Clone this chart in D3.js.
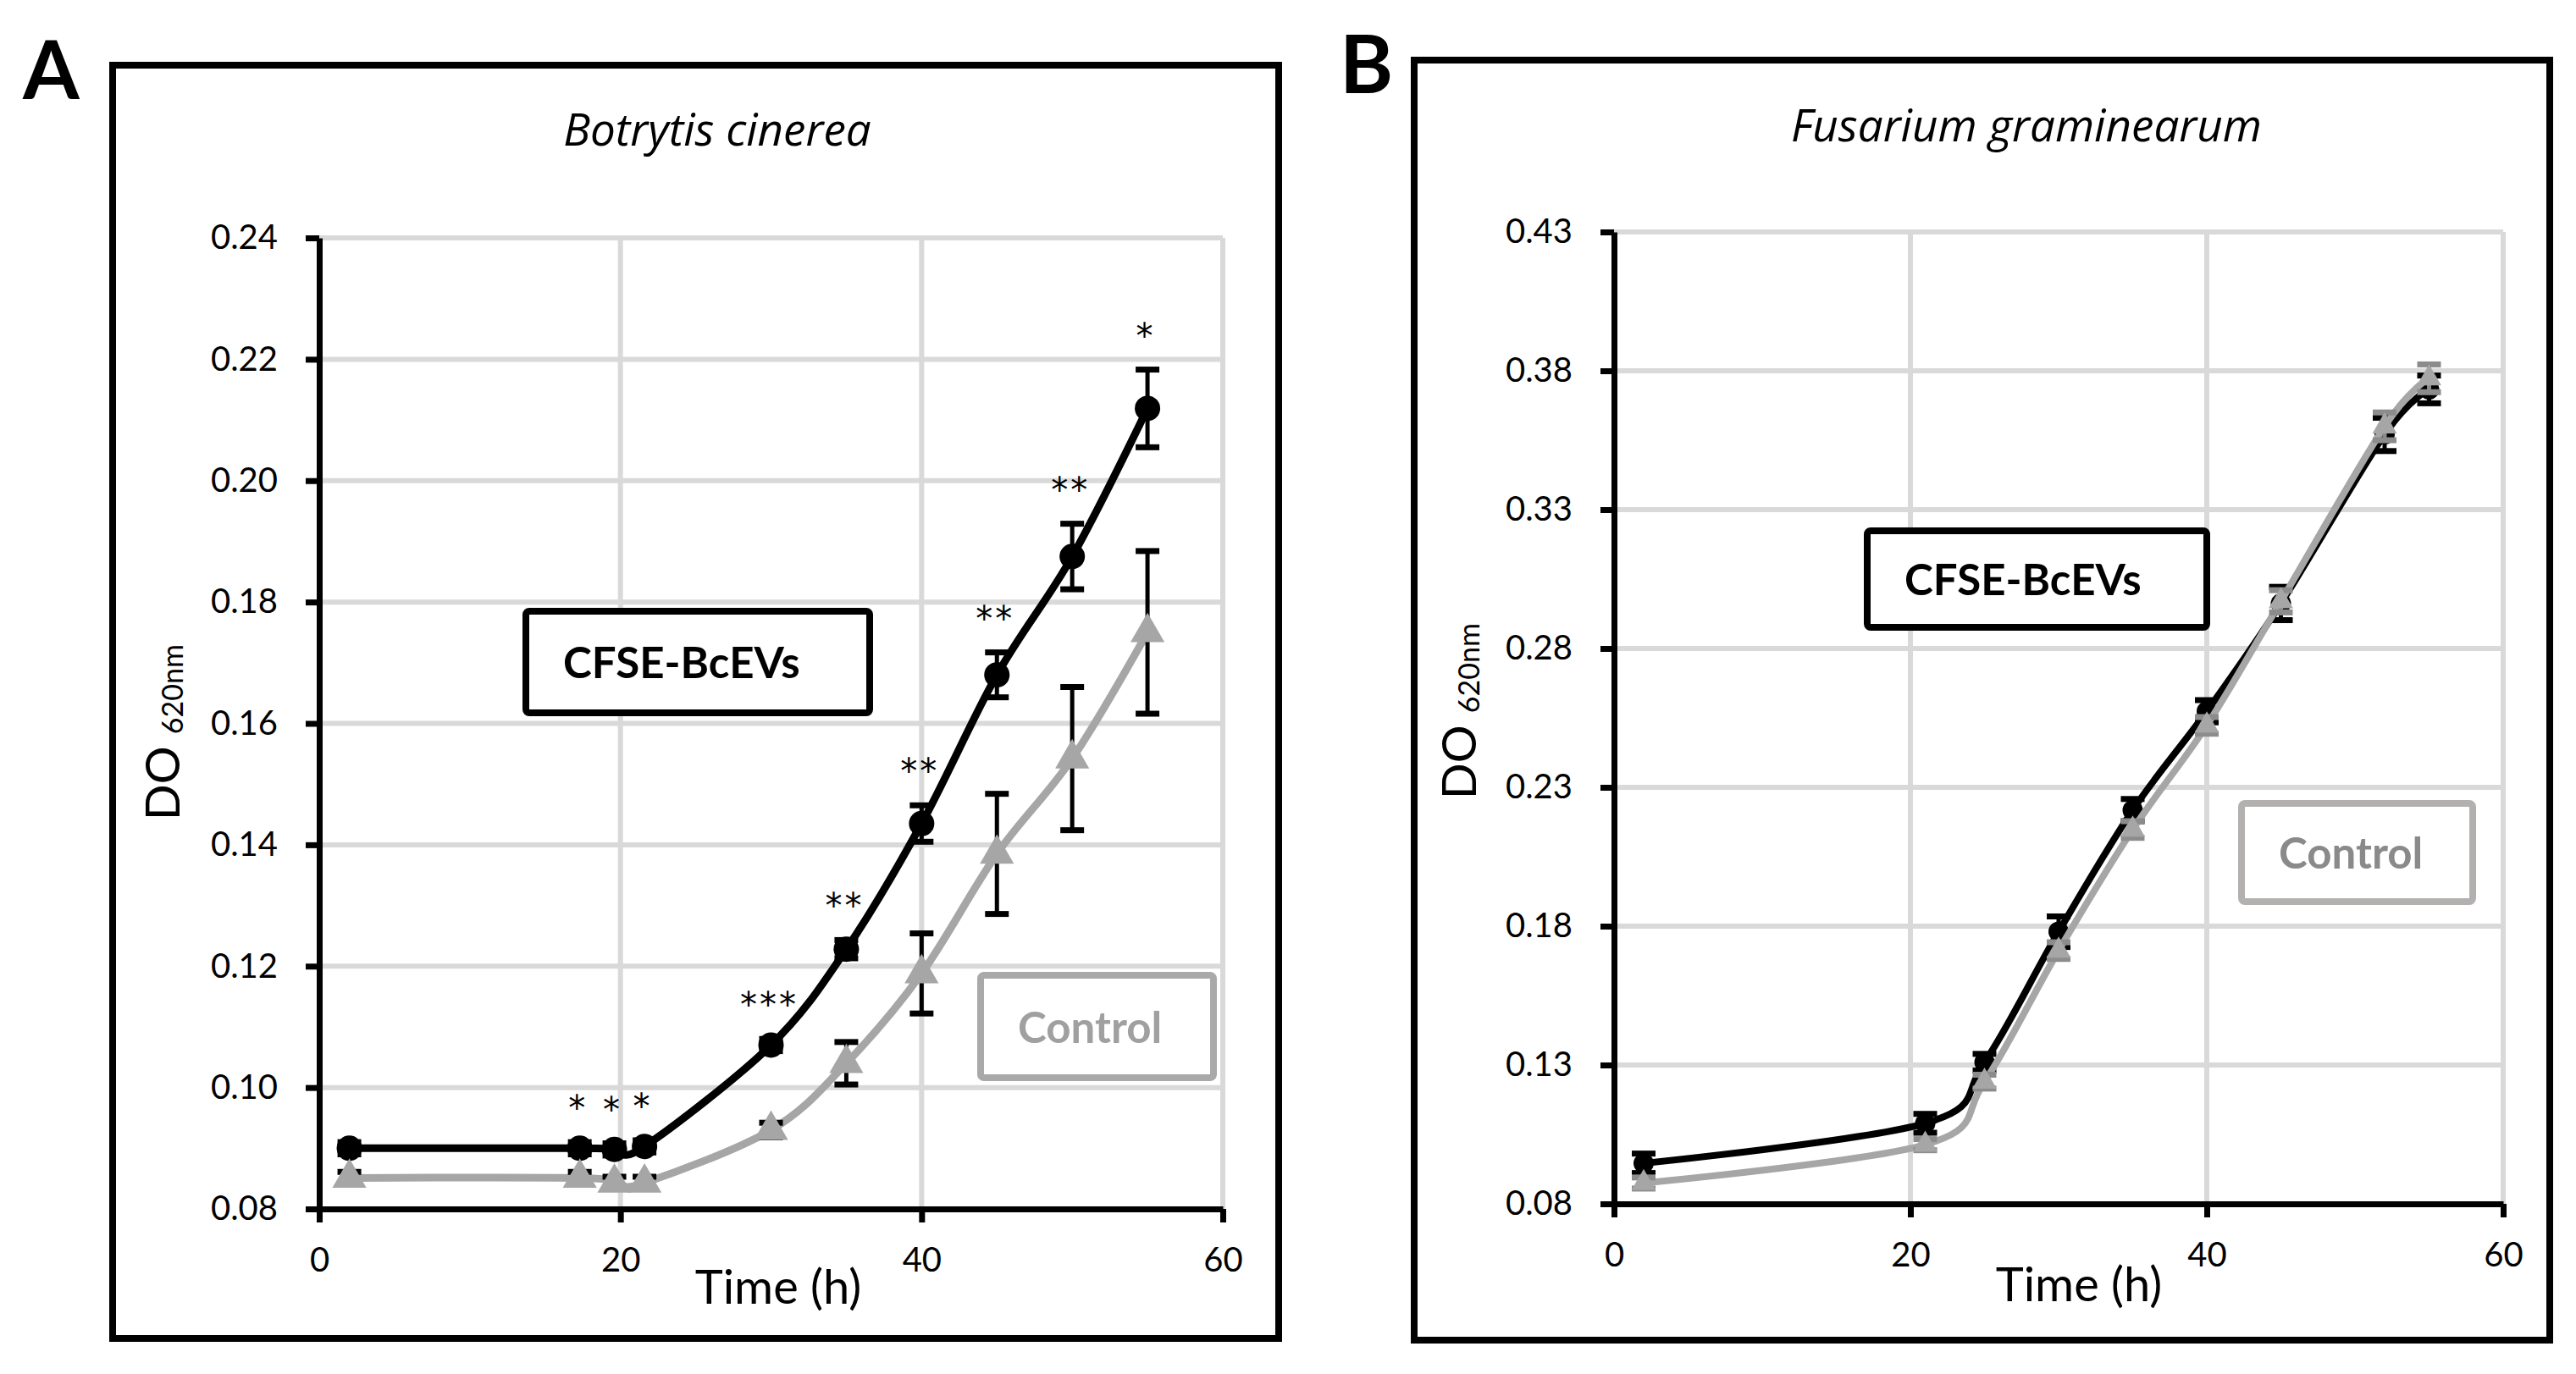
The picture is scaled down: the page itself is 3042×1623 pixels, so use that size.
<!DOCTYPE html>
<html><head><meta charset="utf-8">
<script src="https://cdn.jsdelivr.net/npm/d3@7"></script>
<style>
html,body{margin:0;padding:0;background:#fff;}
svg{display:block;}
</style></head><body>
<svg id="chart" width="3042" height="1623"></svg>
<script>
// ---------- DATA ----------
// Panel A: Botrytis cinerea
const timesA      = [2, 17.3, 19.6, 21.6, 30, 35, 40, 45, 50, 55];
const bcevsA      = [0.0900, 0.0900, 0.0898, 0.0903, 0.1070, 0.1228, 0.1435, 0.1680, 0.1875, 0.2119];
const bcevsErrA   = [0.0010, 0.0010, 0.0010, 0.0010, 0.0010, 0.0015, 0.0030, 0.0037, 0.0054, 0.0064];
const controlA    = [0.0851, 0.0851, 0.0843, 0.0843, 0.0930, 0.1040, 0.1188, 0.1385, 0.1542, 0.1750];
const controlErrA = [0.0010, 0.0010, 0.0010, 0.0010, 0.0012, 0.0035, 0.0066, 0.0099, 0.0118, 0.0134];
const starsA      = ["", "*", "*", "*", "***", "**", "**", "**", "**", "*"];
const yTicksA     = [0.08, 0.10, 0.12, 0.14, 0.16, 0.18, 0.20, 0.22, 0.24];

// Panel B: Fusarium graminearum
const timesB      = [2, 21, 25, 30, 35, 40, 45, 52, 55];
const bcevsB      = [0.0946, 0.1090, 0.1310, 0.1780, 0.2218, 0.2574, 0.2962, 0.3571, 0.3733];
const bcevsErrB   = [0.0035, 0.0034, 0.0030, 0.0055, 0.0040, 0.0040, 0.0060, 0.0060, 0.0050];
const controlB    = [0.0875, 0.1013, 0.1240, 0.1712, 0.2148, 0.2523, 0.2970, 0.3600, 0.3773];
const controlErrB = [0.0020, 0.0020, 0.0025, 0.0030, 0.0030, 0.0030, 0.0040, 0.0050, 0.0050];
const yTicksB     = [0.08, 0.13, 0.18, 0.23, 0.28, 0.33, 0.38, 0.43];

const xTicks = [0, 20, 40, 60];
const seriesNames = ["CFSE-BcEVs", "Control"];

// ---------- DRAW ----------
const svg = d3.select("#chart");
svg.append("rect").attr("width", 3042).attr("height", 1623).attr("fill", "#fff");

const FONT = "Lato, 'Open Sans', sans-serif";
const GRAY = "#a6a6a6";

function drawPanel(p) {
  const g = svg.append("g");

  // frame
  g.append("rect")
    .attr("x", p.frame[0]).attr("y", p.frame[1])
    .attr("width", p.frame[2] - p.frame[0]).attr("height", p.frame[3] - p.frame[1])
    .attr("fill", "none").attr("stroke", "#000").attr("stroke-width", 8);

  // panel letter
  g.append("text").attr("x", p.letterPos[0]).attr("y", p.letterPos[1])
    .attr("font-family", FONT).attr("font-weight", 700).attr("font-size", 96)
    .text(p.letter);

  // title
  g.append("text").attr("x", p.titlePos[0]).attr("y", p.titlePos[1])
    .attr("text-anchor", "middle").attr("font-family", "'Open Sans', sans-serif")
    .attr("font-style", "italic").attr("font-size", 53)
    .text(p.title);

  const x = d3.scaleLinear().domain([0, 60]).range(p.xRange);
  const y = d3.scaleLinear().domain([p.yTicks[0], p.yTicks[p.yTicks.length - 1]]).range(p.yRange);

  // gridlines
  const grid = g.append("g").attr("stroke", "#d9d9d9").attr("stroke-width", 6);
  grid.selectAll("line.h").data(p.yTicks.slice(1)).join("line").attr("class", "h")
    .attr("x1", x(0)).attr("x2", x(60)).attr("y1", d => y(d)).attr("y2", d => y(d));
  grid.selectAll("line.v").data(xTicks.slice(1)).join("line").attr("class", "v")
    .attr("x1", d => x(d)).attr("x2", d => x(d))
    .attr("y1", y(p.yTicks[0])).attr("y2", y(p.yTicks[p.yTicks.length - 1]));

  // axes
  const yAxis = d3.axisLeft(y).tickValues(p.yTicks).tickFormat(d3.format(".2f"))
    .tickSize(16).tickSizeOuter(0).tickPadding(33);
  const xAxis = d3.axisBottom(x).tickValues(xTicks).tickFormat(d3.format("d"))
    .tickSize(16).tickSizeOuter(0).tickPadding(30);

  const ya = g.append("g").attr("transform", `translate(${x(0)},0)`).call(yAxis);
  const xa = g.append("g").attr("transform", `translate(0,${y(p.yTicks[0])})`).call(xAxis);
  [ya, xa].forEach(a => {
    a.select(".domain").attr("stroke", "#000").attr("stroke-width", 7);
    a.selectAll(".tick line").attr("stroke", "#000").attr("stroke-width", 7);
    a.selectAll(".tick text").attr("font-family", FONT).attr("font-size", 40).attr("fill", "#000");
  });

  // axis titles
  g.append("text").attr("x", p.timePos[0]).attr("y", p.timePos[1])
    .attr("text-anchor", "middle").attr("font-family", FONT).attr("font-size", 56)
    .text("Time (h)");
  const dl = g.append("text")
    .attr("transform", `translate(${p.doPos[0]},${p.doPos[1]}) rotate(-90)`)
    .attr("text-anchor", "middle").attr("font-family", FONT);
  dl.append("tspan").attr("font-size", 56).text("DO ");
  dl.append("tspan").attr("font-size", 34).attr("dy", 4).text("620nm");

  // series
  const line = d3.line().x(d => x(d.t)).y(d => y(d.v)).curve(d3.curveCardinal.tension(0));

  function drawSeries(times, vals, errs, color, errColor, marker, lw, msize, capW) {
    const data = times.map((t, i) => ({ t, v: vals[i], e: errs[i] }));
    g.append("path").datum(data).attr("d", line)
      .attr("fill", "none").attr("stroke", color).attr("stroke-width", lw)
      .attr("stroke-linejoin", "round").attr("stroke-linecap", "round");
    const eb = g.append("g").attr("stroke", errColor);
    eb.selectAll("line.v").data(data).join("line").attr("class", "v")
      .attr("x1", d => x(d.t)).attr("x2", d => x(d.t))
      .attr("y1", d => y(d.v - d.e)).attr("y2", d => y(d.v + d.e)).attr("stroke-width", 5);
    eb.selectAll("line.t").data(data).join("line").attr("class", "t")
      .attr("x1", d => x(d.t) - capW / 2).attr("x2", d => x(d.t) + capW / 2)
      .attr("y1", d => y(d.v + d.e)).attr("y2", d => y(d.v + d.e)).attr("stroke-width", 7);
    eb.selectAll("line.b").data(data).join("line").attr("class", "b")
      .attr("x1", d => x(d.t) - capW / 2).attr("x2", d => x(d.t) + capW / 2)
      .attr("y1", d => y(d.v - d.e)).attr("y2", d => y(d.v - d.e)).attr("stroke-width", 7);
    g.append("g").selectAll("path").data(data).join("path")
      .attr("transform", d => `translate(${x(d.t)},${y(d.v)})`)
      .attr("d", d3.symbol().type(marker).size(msize))
      .attr("fill", color);
    return data;
  }

  const blk = drawSeries(p.times, p.bcevs, p.bcevsErr, "#000", "#000", d3.symbolCircle,
                         p.lw, p.circleSize, 28);
  drawSeries(p.times, p.control, p.controlErr, GRAY, p.ctrlErrColor, d3.symbolTriangle,
             p.lw, p.triSize, 28);

  // significance stars
  if (p.stars) {
    g.append("g").selectAll("text").data(blk).join("text")
      .attr("x", d => x(d.t) - 2).attr("y", d => y(d.v + d.e) - 26)
      .attr("text-anchor", "middle").attr("font-family", "'DejaVu Sans', sans-serif")
      .attr("font-size", 40).attr("letter-spacing", 3)
      .text((d, i) => p.stars[i]);
  }

  // legend boxes
  p.legends.forEach((L, i) => {
    g.append("rect").attr("x", L.box[0]).attr("y", L.box[1])
      .attr("width", L.box[2] - L.box[0]).attr("height", L.box[3] - L.box[1])
      .attr("rx", 4).attr("fill", "#fff").attr("stroke", L.stroke).attr("stroke-width", 8);
    g.append("text").attr("x", L.box[0] + 44).attr("y", (L.box[1] + L.box[3]) / 2 + 19)
      .attr("font-family", FONT).attr("font-weight", 700).attr("font-size", 51)
      .attr("fill", L.color).text(seriesNames[i]);
  });
}

drawPanel({
  letter: "A", letterPos: [27, 117],
  title: "Botrytis cinerea", titlePos: [847, 172],
  frame: [133, 77, 1510, 1581],
  xRange: [377, 1444], yRange: [1428, 281],
  yTicks: yTicksA,
  times: timesA, bcevs: bcevsA, bcevsErr: bcevsErrA, control: controlA, controlErr: controlErrA,
  stars: starsA, ctrlErrColor: "#000",
  lw: 9, circleSize: Math.PI * 15 * 15, triSize: 700,
  timePos: [919, 1540], doPos: [212, 865],
  legends: [
    { box: [621, 722, 1027, 842], stroke: "#000", color: "#000" },
    { box: [1158, 1152, 1433, 1273], stroke: "#a9a9a9", color: "#a0a0a0" }
  ]
});

drawPanel({
  letter: "B", letterPos: [1582, 110],
  title: "Fusarium graminearum", titlePos: [2393, 167],
  frame: [1670, 71, 3011, 1583],
  xRange: [1906, 2956], yRange: [1422, 274],
  yTicks: yTicksB,
  times: timesB, bcevs: bcevsB, bcevsErr: bcevsErrB, control: controlB, controlErr: controlErrB,
  stars: null, ctrlErrColor: "#8c8c8c",
  lw: 8, circleSize: Math.PI * 12 * 12, triSize: 360,
  timePos: [2455, 1537], doPos: [1743, 840],
  legends: [
    { box: [2205, 627, 2606, 741], stroke: "#000", color: "#000" },
    { box: [2647, 949, 2920, 1065], stroke: "#b3b0b0", color: "#8a8a8a" }
  ]
});
</script>
</body></html>
